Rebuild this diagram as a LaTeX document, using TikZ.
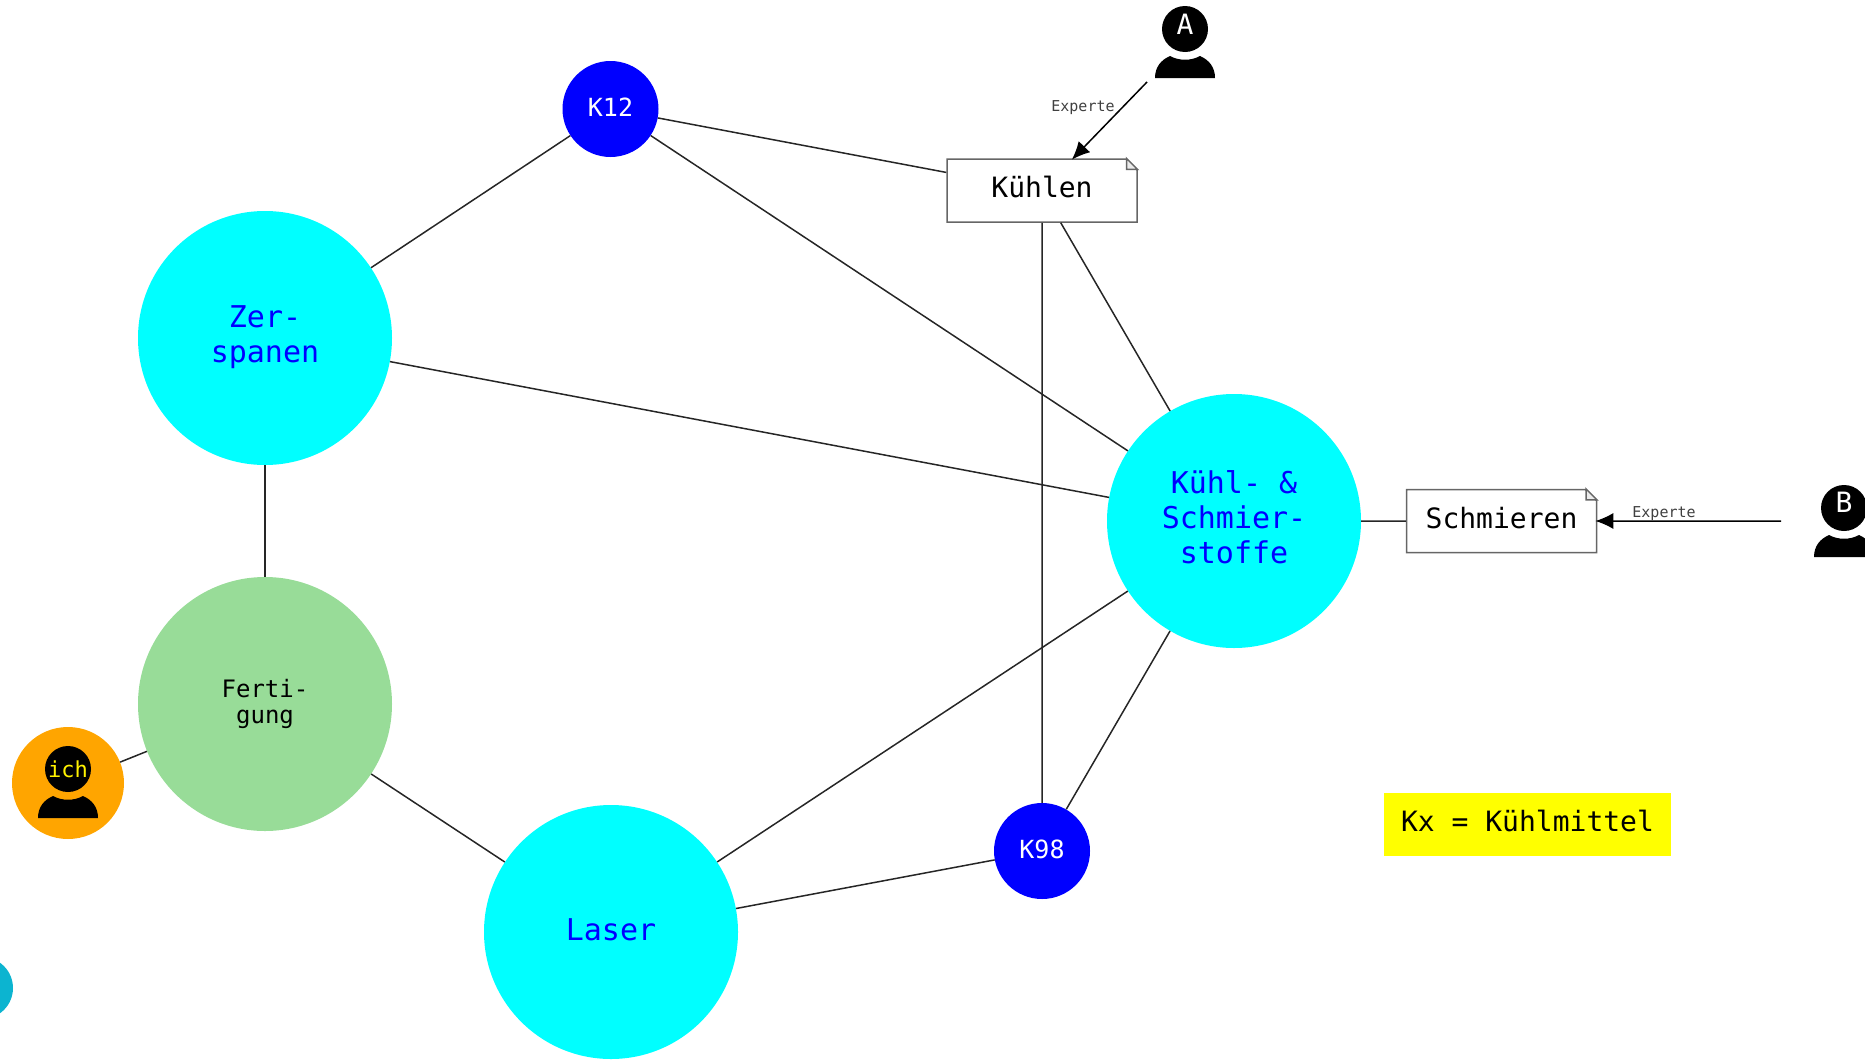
\documentclass[tikz,border=0pt]{standalone}
\usepackage{fontspec}
\setmainfont{DejaVu Sans Mono}
\usetikzlibrary{arrows.meta,shapes.misc}
\definecolor{gruen}{HTML}{98DC98}
\definecolor{orange2}{HTML}{FFA500}
\definecolor{tuerkis}{HTML}{0CB4D0}
\definecolor{zyan}{HTML}{00FFFF}
\definecolor{blau}{HTML}{0000FF}
\definecolor{gelb}{HTML}{FFFF00}
\newcommand{\groesse}[2]{\fontsize{#1}{#2}\selectfont}
\newcommand{\koerper}[1]{
\fill [black] ([shift={(-30,49)}]#1.center) .. controls ([shift={(-30,38)}]#1.center) and ([shift={(-24,31)}]#1.center) .. ([shift={(-15,27)}]#1.center) .. controls ([shift={(-6,32)}]#1.center) and ([shift={(6,32)}]#1.center) .. ([shift={(15,27)}]#1.center) .. controls ([shift={(24,31)}]#1.center) and ([shift={(30,38)}]#1.center) .. ([shift={(30,49)}]#1.center) -- cycle;
}

\begin{document}
\begin{tikzpicture}[x=1pt,y=-1pt]
\tikzstyle{every node}+=[inner sep=0pt]
\tikzstyle{thema}=[circle,minimum size=254pt,fill=zyan,text=blau,align=center,font=\groesse{30}{35}]
\tikzstyle{fach}=[circle,minimum size=254pt,fill=gruen,text=black,align=center,font=\groesse{24}{26}]
\tikzstyle{kuehl}=[circle,minimum size=96pt,fill=blau,text=white,text depth=3pt,font=\groesse{25}{30}]
\tikzstyle{notiz}=[chamfered rectangle,chamfered rectangle corners=north east,chamfered rectangle xsep=5.5pt,chamfered rectangle ysep=5.5pt,minimum width=190pt,minimum height=63pt,draw=black!60,line width=1.5pt,fill=white,font=\groesse{28}{32}]
\tikzstyle{knick}=[draw=black!60,line width=1.5pt,fill=black!8]
\tikzstyle{kopf}=[circle,minimum size=46pt,fill=black,text=white,font=\groesse{28}{32}]
\tikzstyle{linie}=[black!85,line width=1.5pt]
\tikzstyle{pfeil}=[black,line width=1.5pt,shorten >=-2pt,-{Latex[length=18pt,width=16pt]}]
\tikzstyle{klein}=[text=black!75,font=\groesse{15}{18}]
\useasboundingbox (0,0) rectangle (1865,1060);
\node [circle,minimum size=62pt,fill=tuerkis] (rest) at (-18,988) {};
\node [thema,text depth=7pt] (zer) at (265,338) {Zer-\\spanen};
\node [fach] (fert) at (265,704) {Ferti-\\gung};
\node [thema,text depth=5pt] (laser) at (611,932) {Laser};
\node [thema,text depth=7pt] (kss) at (1234,521) {Kühl- \&\\Schmier-\\stoffe};
\node [kuehl] (k12) at (610.5,109) {K12};
\node [kuehl] (k98) at (1042,851) {K98};
\node [notiz,text depth=7pt] (kuehlen) at (1042,190.5) {Kühlen};
\node [notiz,text depth=7pt] (schmieren) at (1501.5,521) {Schmieren};
\node [circle,minimum size=112pt,fill=orange2] (ich) at (68,783) {};
\node [kopf,text=yellow,font=\groesse{22}{24}] (kopfich) at (68,769) {ich};
\koerper{kopfich}
\node [kopf,text depth=9pt] (kopfa) at (1185,29) {A};
\koerper{kopfa}
\node [kopf,text depth=11pt] (kopfb) at (1844,508) {B};
\koerper{kopfb}
\coordinate (expa) at (1147,82);
\coordinate (expb) at (1781,521);
\draw [linie] (zer) -- (k12);
\draw [linie] (zer) -- (kss);
\draw [linie] (zer) -- (fert);
\draw [linie] (k12) -- (kuehlen);
\draw [linie] (k12) -- (kss);
\draw [linie] (kuehlen) -- (kss);
\draw [linie] (kuehlen) -- (k98);
\draw [linie] (fert) -- (laser);
\draw [linie] (fert) -- (ich);
\draw [linie] (laser) -- (kss);
\draw [linie] (laser) -- (k98);
\draw [linie] (k98) -- (kss);
\draw [linie] (kss) -- (schmieren);
\draw [pfeil] (expa) -- (kuehlen);
\draw [pfeil] (expb) -- (schmieren);
\draw [knick] ([shift={(-5.5,-5.5)}]kuehlen.north east) -- ++(0,11) -- ++(11,0) -- cycle;
\draw [knick] ([shift={(-5.5,-5.5)}]schmieren.north east) -- ++(0,11) -- ++(11,0) -- cycle;
\node [klein] (labela) at (1083,107.5) {Experte};
\node [klein] (labelb) at (1664,514) {Experte};
\node [fill=gelb,minimum width=287pt,minimum height=63pt,text depth=7pt,font=\groesse{28}{32}] (legende) at (1527.5,824.5) {Kx = Kühlmittel};
\end{tikzpicture}
\end{document}
